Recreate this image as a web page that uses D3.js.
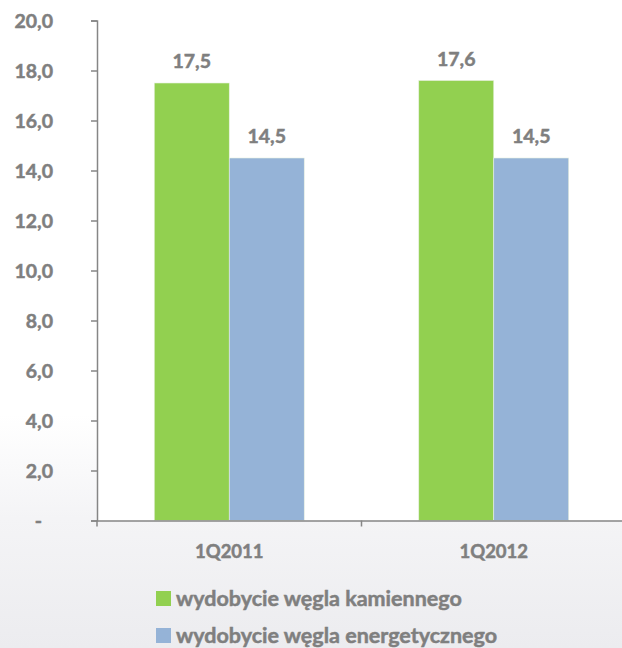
<!DOCTYPE html>
<html>
<head>
<meta charset="utf-8">
<script src="https://cdn.jsdelivr.net/npm/d3@7"></script>
<style>
  html, body { margin: 0; padding: 0; background: #fff; }
  svg { display: block; }
  text { font-family: Lato, "Open Sans", sans-serif; font-weight: bold; fill: #7f7f7f;
         stroke: #7f7f7f; stroke-width: 0.5px; paint-order: stroke; }
</style>
</head>
<body>
<svg id="chart" width="622" height="648"></svg>
<script>
const categories = ["1Q2011", "1Q2012"];
const seriesNames = ["wydobycie węgla kamiennego", "wydobycie węgla energetycznego"];
const seriesColors = ["#92d050", "#95b3d7"];
const kamienny = [17.5, 17.6];
const energetyczny = [14.5, 14.5];
const yTicks = [0, 2, 4, 6, 8, 10, 12, 14, 16, 18, 20];

const series = [kamienny, energetyczny];
const W = 622, H = 648;
const svg = d3.select("#chart");

// background gradient
const defs = svg.append("defs");
const grad = defs.append("linearGradient").attr("id", "bg").attr("x1", 0).attr("y1", 0).attr("x2", 0).attr("y2", 1);
grad.append("stop").attr("offset", "0%").attr("stop-color", "#ffffff");
grad.append("stop").attr("offset", "64%").attr("stop-color", "#ffffff");
grad.append("stop").attr("offset", "80%").attr("stop-color", "#f4f4f6");
grad.append("stop").attr("offset", "100%").attr("stop-color", "#ececef");
svg.append("rect").attr("width", W).attr("height", H).attr("fill", "url(#bg)");

const plot = { left: 97, right: 626, top: 20.5, bottom: 520.5 };

const y = d3.scaleLinear().domain([0, 20]).range([plot.bottom, plot.top]);
const x0 = d3.scaleBand().domain(categories).range([plot.left, plot.right]).padding(0);
const bw = x0.bandwidth();
const x1 = d3.scaleBand().domain(d3.range(series.length)).range([bw * 0.2165, bw * 0.7835]).padding(0);

// white plot area
svg.append("rect").attr("x", plot.left).attr("y", plot.top)
  .attr("width", W - plot.left).attr("height", plot.bottom - plot.top).attr("fill", "#ffffff");

// bars
const groups = svg.append("g").selectAll("g").data(categories).join("g")
  .attr("transform", d => `translate(${x0(d)},0)`);
groups.each(function(cat, ci) {
  const g = d3.select(this);
  series.forEach((s, si) => {
    g.append("rect")
      .attr("x", x1(si)).attr("y", y(s[ci]))
      .attr("width", x1.bandwidth()).attr("height", y(0) - y(s[ci]))
      .attr("fill", seriesColors[si])
      .attr("stroke", "#e8f0e0").attr("stroke-width", 0.6);
    g.append("text")
      .attr("x", x1(si) + x1.bandwidth() / 2).attr("y", y(s[ci]) - 15)
      .attr("text-anchor", "middle").attr("font-size", 19.5)
      .text(d3.format(".1f")(s[ci]).replace(".", ","));
  });
});

// y axis
const yAxis = d3.axisLeft(y).tickValues(yTicks).tickSize(6).tickPadding(0)
  .tickFormat(d => d === 0 ? "-" : d3.format(".1f")(d).replace(".", ","));
const gy = svg.append("g").attr("transform", `translate(${plot.left},0)`).call(yAxis);
gy.select(".domain").attr("stroke", "#868686").attr("stroke-width", 1.5);
gy.selectAll(".tick line").attr("stroke", "#868686").attr("stroke-width", 1.5);
gy.selectAll(".tick text").attr("font-size", 19.5).attr("font-family", "Lato, sans-serif")
  .attr("font-weight", "bold").attr("fill", "#7f7f7f")
  .attr("x", d => d === 0 ? -55 : -44).attr("dy", "0.35em");

// x axis
const xAxis = d3.axisBottom(x0).tickSize(0).tickPadding(0).tickFormat(d => d);
const gx = svg.append("g").attr("transform", `translate(0,${plot.bottom})`).call(xAxis);
gx.select(".domain").attr("stroke", "#868686").attr("stroke-width", 1.5);
gx.selectAll(".tick text").attr("font-size", 18.5).attr("font-family", "Lato, sans-serif")
  .attr("font-weight", "bold").attr("fill", "#7f7f7f").attr("y", 37.5).attr("dy", 0);
// category boundary ticks
const bounds = [plot.left, ...categories.slice(1).map(c => x0(c))];
gx.selectAll(".bnd").data(bounds).join("line").attr("class", "bnd")
  .attr("x1", d => d).attr("x2", d => d).attr("y1", 0).attr("y2", 6)
  .attr("stroke", "#868686").attr("stroke-width", 1.5);

// legend
const legend = svg.append("g").attr("transform", "translate(156,591)");
seriesNames.forEach((name, i) => {
  const row = legend.append("g").attr("transform", `translate(0,${i * 37})`);
  row.append("rect").attr("width", 15).attr("height", 15).attr("fill", seriesColors[i]);
  row.append("text").attr("x", 20).attr("y", 14.5).attr("font-size", 21.5).text(name);
});
</script>
</body>
</html>
